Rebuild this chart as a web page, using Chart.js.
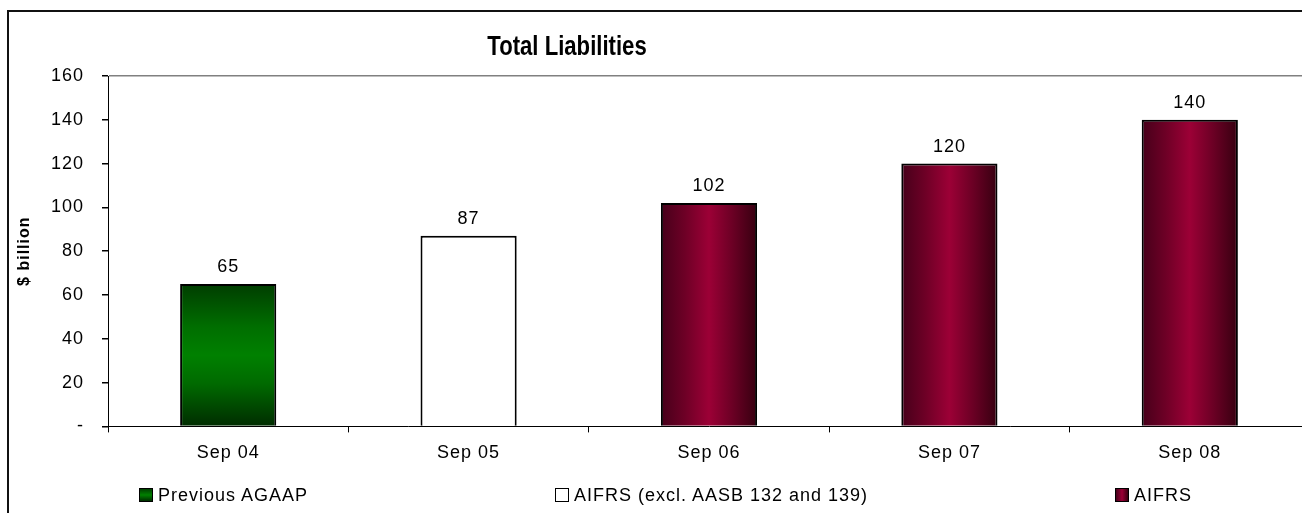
<!DOCTYPE html>
<html>
<head>
<meta charset="utf-8">
<title>Total Liabilities</title>
<script src="https://cdn.jsdelivr.net/npm/chart.js@4/dist/chart.umd.min.js"></script>
<style>
  html, body { margin: 0; padding: 0; background: #fff; }
  body { width: 1302px; height: 513px; overflow: hidden; position: relative; }
  #frame { position: absolute; left: 7px; top: 10px; width: 1400px; height: 600px;
           border: 2px solid #111; box-sizing: border-box; }
  #chart { position: absolute; left: 0; top: 0; }
  #legend { position: absolute; left: 139px; top: 485px; width: 1053px; display: flex;
            justify-content: space-between; font: 18px "Liberation Sans", Arial, sans-serif;
            letter-spacing: 1px; line-height: 20px; color: #000; }
  #legend .item { display: flex; align-items: center; white-space: nowrap; }
  #legend .box { width: 12px; height: 12px; border: 1px solid #000; margin-right: 5px; }
</style>
</head>
<body>
<div id="frame"></div>
<canvas id="chart" width="1310" height="513"></canvas>
<div id="legend"></div>
<script>
// Categories, series and axis ticks
const categories = ['Sep 04', 'Sep 05', 'Sep 06', 'Sep 07', 'Sep 08'];
const seriesNames = ['Previous AGAAP', 'AIFRS (excl. AASB 132 and 139)', 'AIFRS'];
const agaapValues = [65, null, null, null, null];
const aifrsExclValues = [null, 87, null, null, null];
const aifrsValues = [null, null, 102, 120, 140];
const yTickValues = [0, 20, 40, 60, 80, 100, 120, 140, 160];

const FONT = '"Liberation Sans", Arial, sans-serif';
const BAR_PCT = 0.4;
const LEFT_PAD = 15.4;

// Legend swatches (CSS) for each series
const legendSwatches = [
  'linear-gradient(180deg, #003f00 0%, #008000 50%, #002d00 100%)',
  '#ffffff',
  'linear-gradient(90deg, #45001a 0%, #9c0036 50%, #380010 100%)'
];

// Pixel extent of a bar, taken from the chart scales
function barBox(chart, index, value) {
  const xs = chart.scales.x, ys = chart.scales.y;
  const cx = xs.getPixelForValue(index);
  const half = (xs.width / categories.length) * BAR_PCT / 2;
  return { left: cx - half, right: cx + half, top: ys.getPixelForValue(value), base: ys.getPixelForValue(0) };
}

// Green bars: dark at top and bottom, bright through the middle
function greenFill(ctx) {
  const chart = ctx.chart;
  if (!chart.chartArea || !chart.scales.x || ctx.raw == null) return '#007000';
  const b = barBox(chart, ctx.dataIndex, ctx.raw);
  const g = chart.ctx.createLinearGradient(0, b.top, 0, b.base);
  g.addColorStop(0, '#003d00');
  g.addColorStop(0.3, '#006e00');
  g.addColorStop(0.5, '#008000');
  g.addColorStop(0.7, '#006a00');
  g.addColorStop(1, '#002c00');
  return g;
}

// Maroon bars: dark edges, bright centre column
function maroonFill(ctx) {
  const chart = ctx.chart;
  if (!chart.chartArea || !chart.scales.x || ctx.raw == null) return '#8b002e';
  const b = barBox(chart, ctx.dataIndex, ctx.raw);
  const g = chart.ctx.createLinearGradient(b.left, 0, b.right, 0);
  g.addColorStop(0, '#46001a');
  g.addColorStop(0.25, '#6e0026');
  g.addColorStop(0.5, '#9c0036');
  g.addColorStop(0.75, '#6a0024');
  g.addColorStop(1, '#360010');
  return g;
}

// Slight tracking on the axis and value text
const textSpacing = {
  id: 'textSpacing',
  beforeLayout(chart) { chart.ctx.letterSpacing = '1px'; },
  beforeDraw(chart) { chart.ctx.letterSpacing = '1px'; }
};

// Title sits left of the canvas centre, set in a condensed bold face
const titlePlacement = {
  id: 'titlePlacement',
  afterLayout(chart) {
    const tb = chart.titleBlock;
    if (!tb) return;
    tb.left = 0;
    tb.right = 1134;
    if (!tb._condensed) {
      const baseDraw = tb.draw;
      tb.draw = function (area) {
        const c = this.ctx;
        const cx = (this.left + this.right) / 2;
        c.save();
        c.letterSpacing = '0px';
        c.translate(cx, 0);
        c.scale(0.79, 1);
        c.translate(-cx, 0);
        baseDraw.call(this, area);
        c.restore();
      };
      tb._condensed = true;
    }
  }
};

// Value printed above each bar
const valueLabels = {
  id: 'valueLabels',
  afterDatasetsDraw(chart) {
    const c = chart.ctx;
    c.save();
    c.font = '18px ' + FONT;
    c.fillStyle = '#000';
    c.textAlign = 'center';
    c.textBaseline = 'alphabetic';
    chart.data.datasets.forEach((ds, di) => {
      chart.getDatasetMeta(di).data.forEach((el, i) => {
        const v = ds.data[i];
        if (v == null) return;
        c.fillText(String(v), el.x, el.y - 12);
      });
    });
    c.restore();
  }
};

// Legend row built from the dataset labels
const htmlLegend = {
  id: 'htmlLegend',
  afterUpdate(chart) {
    const box = document.getElementById('legend');
    box.innerHTML = '';
    chart.data.datasets.forEach((ds, i) => {
      const item = document.createElement('div');
      item.className = 'item';
      const sw = document.createElement('span');
      sw.className = 'box';
      sw.style.background = legendSwatches[i];
      const tx = document.createElement('span');
      tx.textContent = ds.label;
      item.appendChild(sw);
      item.appendChild(tx);
      box.appendChild(item);
    });
  }
};

const barCommon = {
  borderColor: '#000',
  borderWidth: 2,
  barPercentage: BAR_PCT,
  categoryPercentage: 1,
  grouped: false
};

new Chart(document.getElementById('chart'), {
  type: 'bar',
  data: {
    labels: categories,
    datasets: [
      Object.assign({ label: seriesNames[0], data: agaapValues, backgroundColor: greenFill }, barCommon),
      Object.assign({ label: seriesNames[1], data: aifrsExclValues, backgroundColor: '#ffffff' }, barCommon),
      Object.assign({ label: seriesNames[2], data: aifrsValues, backgroundColor: maroonFill }, barCommon)
    ]
  },
  options: {
    responsive: false,
    animation: false,
    layout: { padding: { left: LEFT_PAD, top: 20, right: 0, bottom: 39 } },
    plugins: {
      legend: { display: false },
      tooltip: { enabled: false },
      title: {
        display: true,
        text: 'Total Liabilities',
        color: '#000',
        font: { family: FONT, size: 28, weight: 'bold', lineHeight: 1.2 },
        padding: { top: 10.2, bottom: 12.2 }
      }
    },
    scales: {
      x: {
        offset: true,
        grid: { display: true, offset: true, drawOnChartArea: false, drawTicks: true, tickLength: 6, tickColor: '#000', color: '#000' },
        border: { display: true, color: '#000', width: 1 },
        ticks: { color: '#000', font: { family: FONT, size: 18 }, padding: 10, maxRotation: 0 }
      },
      y: {
        min: 0,
        max: 160,
        afterBuildTicks(scale) { scale.ticks = yTickValues.map(v => ({ value: v })); },
        afterFit(scale) { scale.width = 108 - LEFT_PAD; },
        grid: {
          display: true,
          drawOnChartArea: true,
          drawTicks: true,
          tickLength: 6,
          tickColor: '#000',
          color: (c) => (c.tick && c.tick.value === 160 ? '#808080' : 'rgba(0,0,0,0)'),
          lineWidth: 1.5
        },
        border: { display: true, color: '#000', width: 1 },
        ticks: {
          color: '#000',
          font: { family: FONT, size: 18 },
          padding: 18,
          callback: (v) => (v === 0 ? '-' : String(v))
        },
        title: {
          display: true,
          text: '$ billion',
          color: '#000',
          font: { family: FONT, size: 16, weight: 'bold', lineHeight: 1.2 },
          padding: { top: 0, bottom: 0 }
        }
      }
    }
  },
  plugins: [textSpacing, titlePlacement, valueLabels, htmlLegend]
});
</script>
</body>
</html>
